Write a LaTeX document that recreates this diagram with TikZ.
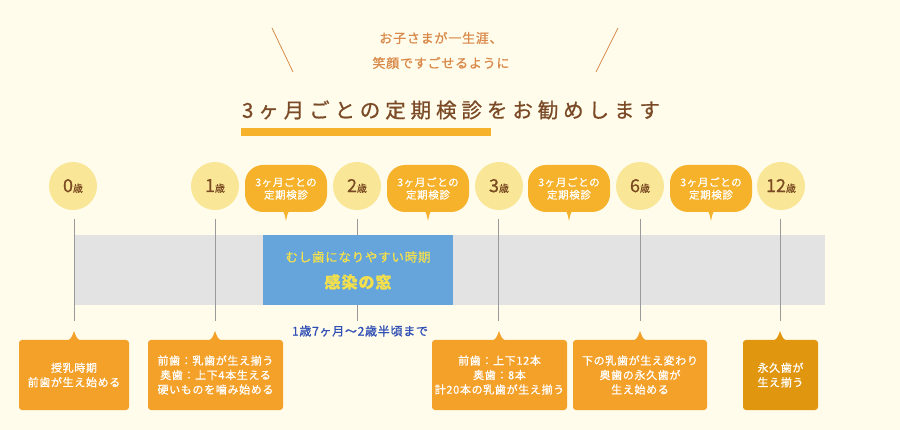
\documentclass[tikz,border=0pt]{standalone}
\usepackage{fontspec}
\setmainfont{Noto Sans CJK JP}
\newfontfamily\jp[FakeBold=0.6]{Noto Sans CJK JP}
\newfontfamily\jpa[LetterSpace=6,FakeBold=0.8]{Noto Sans CJK JP}
\newfontfamily\jpt[LetterSpace=24,FakeBold=0.8]{Noto Sans CJK JP}
\definecolor{bg}{HTML}{FFFCEB}
\definecolor{subc}{HTML}{D98A4A}
\definecolor{titlec}{HTML}{7A4A26}
\definecolor{barc}{HTML}{F5B22A}
\definecolor{circ}{HTML}{F9E696}
\definecolor{agec}{HTML}{7A4A22}
\definecolor{tickc}{HTML}{9A9A9A}
\definecolor{grayb}{HTML}{E3E3E3}
\definecolor{blueb}{HTML}{66A5DC}
\definecolor{yel}{HTML}{F3E04C}
\definecolor{bluet}{HTML}{2F4FB5}
\definecolor{boxo}{HTML}{F4A12A}
\definecolor{boxd}{HTML}{E0960F}
\tikzset{
  agecirc/.style={circle, fill=circ, minimum size=48pt, inner sep=0pt, text=agec},
  bubble/.style={rectangle, rounded corners=18pt, fill=barc, minimum width=82pt, minimum height=47pt,
    inner sep=0pt, text=white, align=center, font=\jpa\fontsize{10.5}{12.6}\selectfont},
  infobox/.style={rectangle, rounded corners=3pt, fill=boxo, minimum height=70pt, inner sep=0pt,
    text=white, align=center, font=\jpa\fontsize{11}{14.5}\selectfont},
  tickline/.style={draw=tickc, line width=0.9pt},
}
\newcommand{\agetxt}[2]{{\fontsize{#1}{#1}\selectfont #2}{\fontsize{10}{10}\selectfont 歳}}
\begin{document}
\begin{tikzpicture}[x=1pt,y=-1pt]
\useasboundingbox (0,0) rectangle (900,430);
\fill[bg] (0,0) rectangle (900,430);
% heading
\draw[subc, line width=0.8pt] (272,28) -- (293,72);
\draw[subc, line width=0.8pt] (618,28) -- (596,72);
\node[text=subc, font=\jpa\fontsize{13}{13}\selectfont] (sub1) at (441,38) {お子さまが一生涯、};
\node[text=subc, font=\jpa\fontsize{13}{13}\selectfont] (sub2) at (441,63) {笑顔ですごせるように};
\node[text=titlec, font=\jpt\fontsize{20.5}{20.5}\selectfont] (title) at (451,110) {3ヶ月ごとの定期検診をお勧めします};
\fill[barc] (241,128) rectangle (491,136);
% bar
\fill[grayb] (75,235) rectangle (825,305);
% ticks
\foreach \n/\x in {0/74,1/215,2/357,3/498,6/640,12/780}{
  \coordinate (t\n a) at (\x,219);
  \coordinate (t\n b) at (\x,321);
  \draw[tickline] (t\n a) -- (t\n b);
}
% blue window
\node[rectangle, fill=blueb, minimum width=190pt, minimum height=70pt, inner sep=0pt] (win) at (358,270) {};
\node[text=yel, font=\jpa\fontsize{12.5}{12.5}\selectfont] (win1) at (358,257) {むし歯になりやすい時期};
\node[text=yel, font=\jpa\fontsize{16}{16}\selectfont\bfseries] (win2) at (358,282) {感染の窓};
\node[text=bluet, font=\jpa\fontsize{12}{12}\selectfont] (period) at (360,331) {1歳7ヶ月〜2歳半頃まで};
% age circles
\node[agecirc, font=\jp] (c0) at (73,186) {\agetxt{18}{0}};
\node[agecirc, font=\jp] (c1) at (215,186) {\agetxt{18}{1}};
\node[agecirc, font=\jp] (c2) at (357,186) {\agetxt{18}{2}};
\node[agecirc, font=\jp] (c3) at (499,186) {\agetxt{18}{3}};
\node[agecirc, font=\jp] (c6) at (640,186) {\agetxt{18}{6}};
\node[agecirc, font=\jp] (c12) at (781,186) {\agetxt{18}{12}};
% bubbles
\foreach \n/\x in {1/286,2/428,3/569,4/711}{
  \node[bubble] (b\n) at (\x,188.5) {3ヶ月ごとの\\定期検診};
  \fill[barc] (\x-8,209) .. controls (\x-2,211) .. (\x,221) .. controls (\x+2,211) .. (\x+8,209) -- cycle;
}
% info boxes
\node[infobox, minimum width=110pt] (i0) at (74,375) {授乳時期\\前歯が生え始める};
\node[infobox, minimum width=135pt] (i1) at (215.5,375) {前歯：乳歯が生え揃う\\奥歯：上下4本生える\\硬いものを噛み始める};
\node[infobox, minimum width=135pt] (i3) at (499.5,375) {前歯：上下12本\\奥歯：8本\\計20本の乳歯が生え揃う};
\node[infobox, minimum width=134pt] (i6) at (640,375) {下の乳歯が生え変わり\\奥歯の永久歯が\\生え始める};
\node[infobox, minimum width=75pt, fill=boxd] (i12) at (780.5,375) {永久歯が\\生え揃う};
\foreach \x/\c in {74/boxo,215/boxo,499/boxo,640/boxo,780/boxd}{
  \fill[\c] (\x-8,341) .. controls (\x-3,339) .. (\x,331) .. controls (\x+3,339) .. (\x+8,341) -- cycle;
}
\end{tikzpicture}
\end{document}
